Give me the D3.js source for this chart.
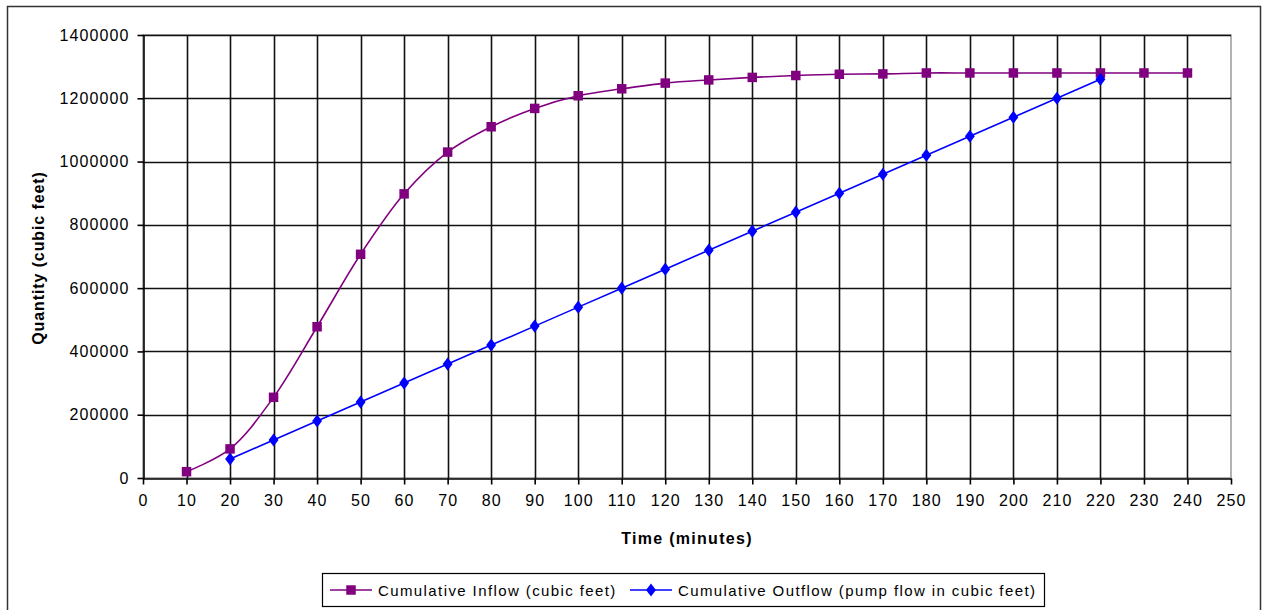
<!DOCTYPE html>
<html>
<head>
<meta charset="utf-8">
<script src="https://cdn.jsdelivr.net/npm/d3@7"></script>
<style>
  body { margin: 0; background: #fff; }
  svg text { font-family: "Liberation Sans", Arial, sans-serif; fill: #000; }
</style>
</head>
<body>
<div id="chart"></div>
<script>
// Time in minutes
const inflowTimes = [10, 20, 30, 40, 50, 60, 70, 80, 90, 100, 110, 120, 130, 140, 150, 160, 170, 180, 190, 200, 210, 220, 230, 240];
const inflowValues = [20000, 92000, 255000, 478000, 707000, 898000, 1030000, 1110000, 1168000, 1208000, 1230000, 1248000, 1258000, 1266000, 1272000, 1276000, 1277000, 1280000, 1280000, 1280000, 1280000, 1280000, 1280000, 1280000];

const outflowTimes = [20, 30, 40, 50, 60, 70, 80, 90, 100, 110, 120, 130, 140, 150, 160, 170, 180, 190, 200, 210, 220];
const outflowValues = [60000, 120000, 180000, 240000, 300000, 360000, 420000, 480000, 540000, 600000, 660000, 720000, 780000, 840000, 900000, 960000, 1020000, 1080000, 1140000, 1200000, 1260000];

const xTicks = d3.range(0, 251, 10);
const yTicks = [0, 200000, 400000, 600000, 800000, 1000000, 1200000, 1400000];

const seriesNames = ["Cumulative Inflow (cubic feet)", "Cumulative Outflow (pump flow in cubic feet)"];
const seriesColors = ["#800080", "#0000ff"];

const W = 1264, H = 610;
const plot = { left: 143, right: 1231, top: 35, bottom: 478 };

const svg = d3.select("#chart").append("svg")
    .attr("width", W)
    .attr("height", H);

// outer chart border
svg.append("rect")
    .attr("x", 7.5).attr("y", 6.5)
    .attr("width", 1253).attr("height", 610)
    .attr("fill", "none")
    .attr("stroke", "#333")
    .attr("stroke-width", 1.5);

const x = d3.scaleLinear().domain([0, 250]).range([plot.left, plot.right]);
const y = d3.scaleLinear().domain([0, 1400000]).range([plot.bottom, plot.top]);

// plot area border (grey top/right)
svg.append("rect")
    .attr("x", plot.left).attr("y", plot.top)
    .attr("width", plot.right - plot.left).attr("height", plot.bottom - plot.top)
    .attr("fill", "none")
    .attr("stroke", "#999")
    .attr("stroke-width", 1.5);

// grid lines
svg.append("g")
    .selectAll("line")
    .data(yTicks.slice(1))
    .join("line")
    .attr("x1", plot.left).attr("x2", plot.right)
    .attr("y1", d => Math.round(y(d)) + 0.5).attr("y2", d => Math.round(y(d)) + 0.5)
    .attr("stroke", "#111")
    .attr("stroke-width", 1.6);

svg.append("g")
    .selectAll("line")
    .data(xTicks.slice(1, -1))
    .join("line")
    .attr("y1", plot.top).attr("y2", plot.bottom)
    .attr("x1", d => Math.round(x(d)) + 0.5).attr("x2", d => Math.round(x(d)) + 0.5)
    .attr("stroke", "#111")
    .attr("stroke-width", 1.6);

// axes
const xAxis = svg.append("g")
    .attr("transform", `translate(0,${plot.bottom + 0.5})`)
    .call(d3.axisBottom(x).tickValues(xTicks).tickSize(6).tickSizeOuter(0).tickPadding(10));
const yAxis = svg.append("g")
    .attr("transform", `translate(${plot.left + 0.5},0)`)
    .call(d3.axisLeft(y).tickValues(yTicks).tickSize(6).tickSizeOuter(0).tickPadding(8).tickFormat(d3.format("d")));

[xAxis, yAxis].forEach(a => {
    a.select(".domain").attr("stroke", "#000").attr("stroke-width", 1.6);
    a.selectAll(".tick line").attr("stroke", "#000").attr("stroke-width", 1.6);
    a.selectAll(".tick text")
        .attr("font-size", 16)
        .attr("letter-spacing", "1.1px")
        .attr("font-family", "Liberation Sans, Arial, sans-serif")
        .attr("fill", "#111");
});

// axis titles
svg.append("text")
    .attr("x", 687).attr("y", 544)
    .attr("text-anchor", "middle")
    .attr("font-size", 16)
    .attr("font-weight", "bold")
    .attr("letter-spacing", "1.3px")
    .text("Time (minutes)");

svg.append("text")
    .attr("transform", "translate(44,258) rotate(-90)")
    .attr("text-anchor", "middle")
    .attr("font-size", 16)
    .attr("font-weight", "bold")
    .attr("letter-spacing", "0.9px")
    .text("Quantity (cubic feet)");

// series
const inflow = inflowTimes.map((t, i) => ({ t, v: inflowValues[i] }));
const outflow = outflowTimes.map((t, i) => ({ t, v: outflowValues[i] }));

svg.append("path")
    .datum(inflow)
    .attr("fill", "none")
    .attr("stroke", seriesColors[0])
    .attr("stroke-width", 1.6)
    .attr("d", d3.line().x(d => x(d.t)).y(d => y(d.v)).curve(d3.curveCatmullRom.alpha(0.5)));

svg.append("path")
    .datum(outflow)
    .attr("fill", "none")
    .attr("stroke", seriesColors[1])
    .attr("stroke-width", 1.6)
    .attr("d", d3.line().x(d => x(d.t)).y(d => y(d.v)));

const square = d3.symbol().type(d3.symbolSquare).size(90);
const diamond = d3.symbol().type(d3.symbolDiamond).size(50);

svg.append("g")
    .selectAll("path")
    .data(inflow)
    .join("path")
    .attr("transform", d => `translate(${x(d.t)},${y(d.v)})`)
    .attr("d", square)
    .attr("fill", seriesColors[0]);

svg.append("g")
    .selectAll("path")
    .data(outflow)
    .join("path")
    .attr("transform", d => `translate(${x(d.t)},${y(d.v)}) scale(1.3,1)`)
    .attr("d", diamond)
    .attr("fill", seriesColors[1]);

// legend
const legend = svg.append("g");
legend.append("rect")
    .attr("x", 322.5).attr("y", 573.5)
    .attr("width", 722).attr("height", 33)
    .attr("fill", "#fff")
    .attr("stroke", "#000")
    .attr("stroke-width", 1.2);

const legendX = [330, 630];
const symbols = [square, diamond];
seriesNames.forEach((name, i) => {
    const g = legend.append("g").attr("transform", `translate(${legendX[i]},590)`);
    g.append("line")
        .attr("x1", 0).attr("x2", 42)
        .attr("stroke", seriesColors[i])
        .attr("stroke-width", 1.6);
    g.append("path")
        .attr("transform", i === 1 ? "translate(21,0) scale(1.3,1)" : "translate(21,0)")
        .attr("d", symbols[i])
        .attr("fill", seriesColors[i]);
    g.append("text")
        .attr("x", 48).attr("y", 5.5)
        .attr("font-size", 15)
        .attr("letter-spacing", "1.4px")
        .text(name);
});
</script>
</body>
</html>
